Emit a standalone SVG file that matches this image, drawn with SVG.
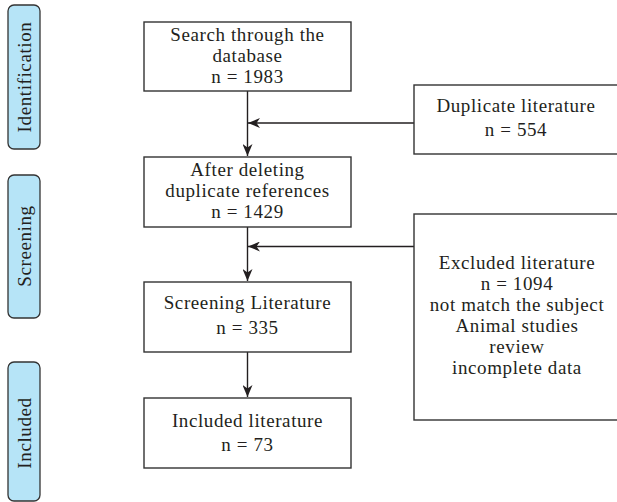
<svg xmlns="http://www.w3.org/2000/svg" width="617" height="502" viewBox="0 0 617 502">
<style>
.box{fill:#fff;stroke:#333;stroke-width:1.4}
.pill{fill:#b6e4f7;stroke:#333;stroke-width:1.3}
.t{font-family:"Liberation Serif","Times New Roman",serif;font-size:19px;letter-spacing:0.6px;fill:#231f20;text-anchor:middle}
.ln{fill:none;stroke:#231f20;stroke-width:1.4}
</style>
<defs>
<marker id="ah" viewBox="0 0 12 10" refX="12" refY="5" markerWidth="12" markerHeight="10" markerUnits="userSpaceOnUse" orient="auto">
<path d="M0,0 L12,5 L0,10 L3.5,5 Z" fill="#231f20"/>
</marker>
</defs>
<rect width="617" height="502" fill="#fff"/>
<g id="stage-identification">
<rect class="pill" x="8" y="5" width="32" height="144" rx="6"/>
<text class="t" transform="translate(31,77) rotate(-90)">Identification</text>
</g>
<g id="stage-screening">
<rect class="pill" x="8" y="175" width="32" height="143" rx="6"/>
<text class="t" transform="translate(31,246) rotate(-90)">Screening</text>
</g>
<g id="stage-included">
<rect class="pill" x="8" y="362" width="32" height="139" rx="6"/>
<text class="t" transform="translate(31,433) rotate(-90)">Included</text>
</g>
<g id="connectors">
<line class="ln" x1="247.5" y1="91" x2="247.5" y2="156" marker-end="url(#ah)"/>
<line class="ln" x1="414" y1="123" x2="248" y2="123" marker-end="url(#ah)"/>
<line class="ln" x1="247.5" y1="227" x2="247.5" y2="281" marker-end="url(#ah)"/>
<line class="ln" x1="414" y1="246.5" x2="248" y2="246.5" marker-end="url(#ah)"/>
<line class="ln" x1="247.5" y1="352" x2="247.5" y2="397" marker-end="url(#ah)"/>
</g>
<g id="node-search">
<rect class="box" x="144" y="22" width="207" height="69"/>
<text class="t" x="247.5" y="40.5">Search through the</text>
<text class="t" x="247.5" y="62">database</text>
<text class="t" x="247.5" y="83">n = 1983</text>
</g>
<g id="node-after">
<rect class="box" x="144" y="157" width="207" height="70"/>
<text class="t" x="247.5" y="176">After deleting</text>
<text class="t" x="247.5" y="197">duplicate references</text>
<text class="t" x="247.5" y="218">n = 1429</text>
</g>
<g id="node-screening">
<rect class="box" x="144" y="282" width="207" height="70"/>
<text class="t" x="247.5" y="309">Screening Literature</text>
<text class="t" x="247.5" y="334">n = 335</text>
</g>
<g id="node-included">
<rect class="box" x="144" y="398" width="207" height="70"/>
<text class="t" x="247.5" y="427">Included literature</text>
<text class="t" x="247.5" y="451">n = 73</text>
</g>
<g id="node-duplicate">
<rect class="box" x="414" y="85" width="210" height="69"/>
<text class="t" x="516" y="112">Duplicate literature</text>
<text class="t" x="516" y="135.5">n = 554</text>
</g>
<g id="node-excluded">
<rect class="box" x="414" y="214" width="210" height="206"/>
<text class="t" x="517" y="269">Excluded literature</text>
<text class="t" x="517" y="290">n = 1094</text>
<text class="t" x="517" y="311">not match the subject</text>
<text class="t" x="517" y="332">Animal studies</text>
<text class="t" x="517" y="353">review</text>
<text class="t" x="517" y="374">incomplete data</text>
</g>
</svg>
